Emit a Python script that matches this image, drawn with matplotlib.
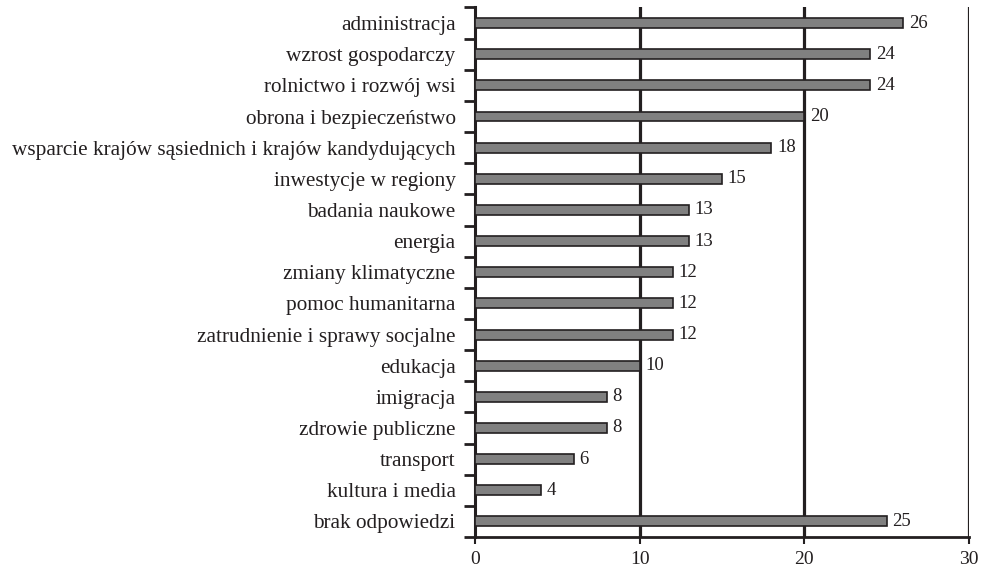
import numpy as np
import matplotlib.pyplot as plt

categories = [
    "administracja",
    "wzrost gospodarczy",
    "rolnictwo i rozwój wsi",
    "obrona i bezpieczeństwo",
    "wsparcie krajów sąsiednich i krajów kandydujących",
    "inwestycje w regiony",
    "badania naukowe",
    "energia",
    "zmiany klimatyczne",
    "pomoc humanitarna",
    "zatrudnienie i sprawy socjalne",
    "edukacja",
    "imigracja",
    "zdrowie publiczne",
    "transport",
    "kultura i media",
    "brak odpowiedzi",
]
values = [26, 24, 24, 20, 18, 15, 13, 13, 12, 12, 12, 10, 8, 8, 6, 4, 25]
x_ticks = [0, 10, 20, 30]

plt.rcParams['font.family'] = ['Liberation Serif', 'DejaVu Serif']
txt = '#231f20'

fig = plt.figure(figsize=(9.81, 5.68), dpi=100)
ax = fig.add_axes([0.4842, 0.0546, 0.5036, 0.9322])

y = np.arange(len(categories))
ax.barh(y, values, height=0.32, color='#808080', edgecolor=txt,
        linewidth=1.2, zorder=3)
for yi, v in zip(y, values):
    ax.text(v + 0.35, yi, str(v), va='center', ha='left',
            fontsize=13.5, color=txt)

ax.set_xlim(0, 30)
ax.set_ylim(len(categories) - 0.5, -0.5)

# vertical gridlines at 10, 20, 30
for xv in x_ticks[1:]:
    ax.axvline(xv, color=txt, linewidth=2.3, zorder=2)

ax.set_xticks(x_ticks)
ax.set_xticklabels([str(t) for t in x_ticks], fontsize=14, color=txt)
ax.tick_params(axis='x', length=5, width=1.5, color=txt, pad=5)

ax.set_yticks(y)
ax.set_yticklabels(categories, fontsize=15.3, color=txt)
ax.set_yticks(np.arange(-0.5, len(categories), 1), minor=True)
ax.tick_params(axis='y', which='major', length=0, pad=14)
ax.tick_params(axis='y', which='minor', length=8, width=2, color=txt)

for side in ['top', 'right']:
    ax.spines[side].set_visible(False)
ax.spines['left'].set_linewidth(2.2)
ax.spines['bottom'].set_linewidth(2.0)
ax.spines['left'].set_color(txt)
ax.spines['bottom'].set_color(txt)

fig.savefig('out.png', dpi=100)
